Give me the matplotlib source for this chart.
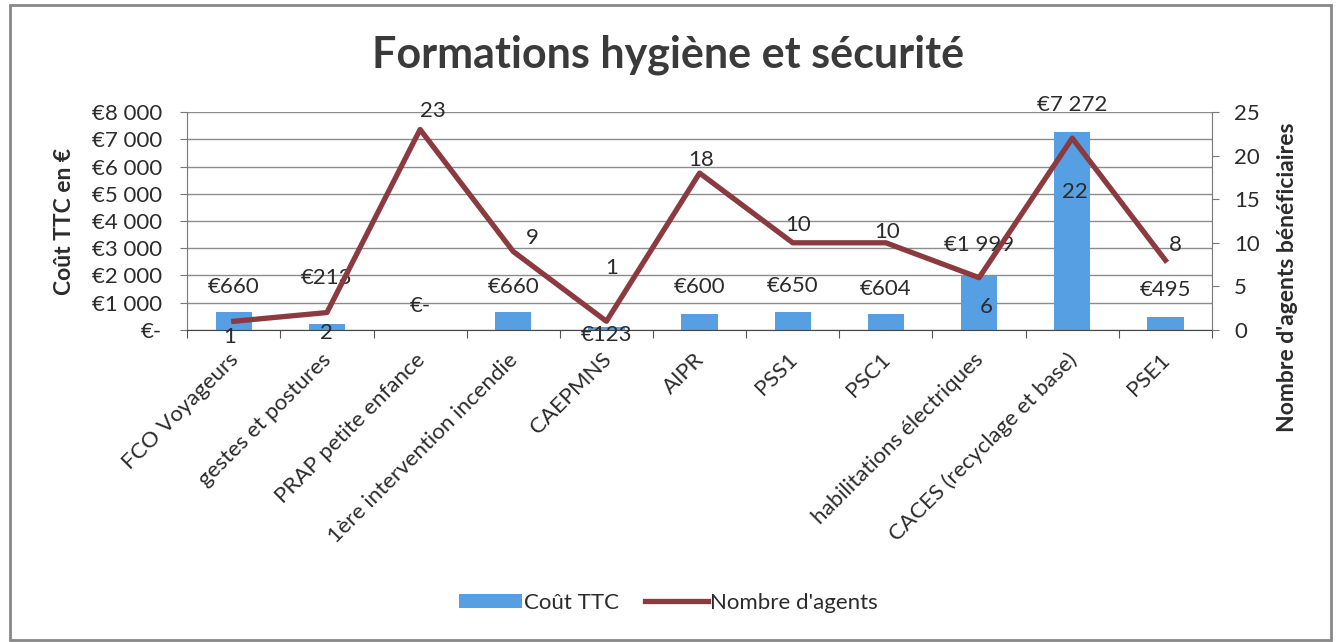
import matplotlib.pyplot as plt
from matplotlib.patches import Rectangle
from matplotlib.transforms import ScaledTranslation
import numpy as np

plt.rcParams["font.family"] = ["Lato", "DejaVu Sans"]

# data
formations = [
    "FCO Voyageurs", "gestes et postures", "PRAP petite enfance",
    "1ère intervention incendie", "CAEPMNS", "AIPR", "PSS1", "PSC1",
    "habilitations électriques", "CACES (recyclage et base)", "PSE1",
]
cout_ttc = [660, 213, 0, 660, 123, 600, 650, 604, 1999, 7272, 495]
nb_agents = [1, 2, 23, 9, 1, 18, 10, 10, 6, 22, 8]
cout_ticks = [0, 1000, 2000, 3000, 4000, 5000, 6000, 7000, 8000]
cout_ticklabels = ["€-", "€1 000", "€2 000", "€3 000", "€4 000", "€5 000",
                   "€6 000", "€7 000", "€8 000"]
agent_ticks = [0, 5, 10, 15, 20, 25]

# label offsets (points), as the labels were placed in the original sheet
cout_offsets = [(0, 18), (0, 33), (0, 17), (0, 18), (0, -6), (0, 19),
                (0, 19), (0, 18), (0, 22), (0, 19), (0, 19)]
agent_offsets = [(-3, -11), (0, -15), (9, 13), (14, 10), (4, 38), (1, 9.5),
                 (3.5, 13), (1, 8), (5, -21), (2, -39), (7, 11)]


def fmt_euro(v):
    if v == 0:
        return "€-"
    return "€" + f"{v:,}".replace(",", " ")


blue = "#559FE2"
red = "#8B3A3F"
txt = "#2b2b2b"
fs = 16

fig = plt.figure(figsize=(13.37, 6.42), dpi=100)
ax = fig.add_axes([0.140, 0.486, 0.7665, 0.3395])
ax2 = ax.twinx()

x = np.arange(len(formations))
ax.bar(x, cout_ttc, width=0.39, color=blue, zorder=2, label="Coût TTC")
ax.set_xlim(-0.5, len(formations) - 0.5)
ax.set_ylim(0, 8000)
ax.set_yticks(cout_ticks)
ax.set_yticklabels(cout_ticklabels, fontsize=fs, color=txt)
ax.grid(axis="y", color="#8c8c8c", linewidth=1.0, zorder=0)
ax.set_axisbelow(True)

# ticks sit between categories, labels under each category
ax.set_xticks(np.arange(-0.5, len(formations), 1.0), minor=False)
ax.set_xticklabels([])
ax.set_xticks(x, minor=True)
ax.set_xticklabels(formations, minor=True, rotation=45, ha="right",
                   rotation_mode="anchor", fontsize=fs, color=txt)
ax.tick_params(axis="x", which="minor", length=0, pad=14)
ax.tick_params(axis="x", which="major", length=6, direction="out", color="#555555")
ax.tick_params(axis="y", length=5, color="#777777", pad=13)
shift = ScaledTranslation(-4 / 72, 0, fig.dpi_scale_trans)
for lbl in ax.get_xticklabels(minor=True):
    lbl.set_transform(lbl.get_transform() + shift)

for s in ["top", "right"]:
    ax.spines[s].set_visible(False)
    ax2.spines[s].set_visible(False)
ax.spines["left"].set_color("#777777")
ax.spines["bottom"].set_color("#444444")
ax2.spines["right"].set_visible(True)
ax2.spines["right"].set_color("#777777")
ax2.spines["left"].set_visible(False)
ax2.spines["bottom"].set_visible(False)

ax2.plot(x, nb_agents, color=red, linewidth=3.8, zorder=3, label="Nombre d'agents")
ax2.set_ylim(0, 25)
ax2.set_yticks(agent_ticks)
ax2.tick_params(axis="y", length=5, color="#777777", pad=11, labelsize=fs,
                labelcolor=txt)

for xi, v, off in zip(x, cout_ttc, cout_offsets):
    ax.annotate(fmt_euro(v), (xi, v), xytext=off, textcoords="offset points",
                ha="center", va="center", fontsize=fs, color=txt, zorder=5)
for xi, v, off in zip(x, nb_agents, agent_offsets):
    ax2.annotate(str(v), (xi, v), xytext=off, textcoords="offset points",
                 ha="center", va="center", fontsize=fs, color=txt, zorder=5)

ax.set_ylabel("Coût TTC en €", fontsize=16.5, fontweight="bold", color=txt,
              labelpad=12)
ax2.set_ylabel("Nombre d'agents bénéficiaires", fontsize=16.5, fontweight="bold",
               color=txt)
ax2.yaxis.set_label_coords(1.063, 0.24)

fig.suptitle("Formations hygiène et sécurité", x=0.50, y=0.914, va="center",
             fontsize=31, fontweight="bold", color="#3a3a3a")

h1, l1 = ax.get_legend_handles_labels()
h2, l2 = ax2.get_legend_handles_labels()
fig.legend(h1 + h2, l1 + l2, loc="center", bbox_to_anchor=(0.50, 0.061), ncol=2,
           frameon=False, fontsize=fs, handlelength=2.8, handleheight=0.6,
           handletextpad=0.1, columnspacing=1.2, labelcolor=txt)

fig.add_artist(Rectangle((0.0075, 0.003), 0.988, 0.989, transform=fig.transFigure,
                         fill=False, edgecolor="#888888", linewidth=2.0))

fig.savefig("out.png", dpi=100)
